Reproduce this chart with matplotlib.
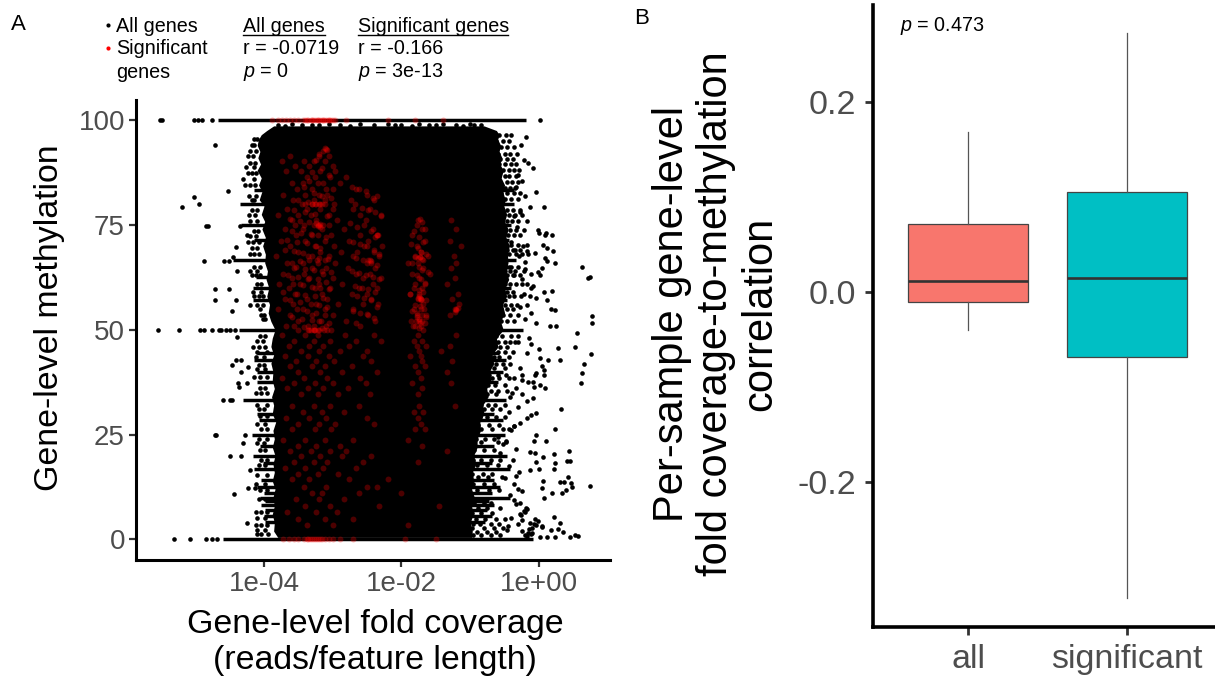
import matplotlib
matplotlib.use("Agg")
import matplotlib.pyplot as plt
from matplotlib.lines import Line2D

plt.rcParams['font.family'] = ['Liberation Sans', 'DejaVu Sans']
plt.rcParams['mathtext.fontset'] = 'custom'
plt.rcParams['mathtext.it'] = 'Liberation Sans:italic'
plt.rcParams['mathtext.rm'] = 'Liberation Sans'

W, H = 1215, 682

# panel A, x values are log10 of the fold coverage
# solid body of the cloud: methylation, left edge, right edge
body_m = [98.6, 97.5, 96.5, 95.4, 94, 92.5, 91, 89.5, 88, 86.2, 84.5, 83, 81, 79.5, 77.5, 75.8, 74, 72, 70, 68, 66,
          64, 62, 60, 58, 56, 54, 52, 50, 48, 46, 44, 42, 40, 38, 36, 34, 32, 30, 28, 26, 24, 22, 20, 18, 16, 14, 12,
          10, 8, 6, 4, 2, 0.5]
body_l = [-3.86, -3.96, -4.04, -4.08, -4.1, -4.06, -4.09, -4.05, -4.1, -4.04, -4.08, -4.03, -4.07, -4.0, -4.04, -3.99,
          -4.03, -3.98, -4.02, -3.98, -3.99, -3.95, -3.97, -3.93, -3.96, -3.92, -3.94, -3.9, -3.84, -3.88, -3.9, -3.86,
          -3.9, -3.87, -3.88, -3.85, -3.89, -3.86, -3.88, -3.83, -3.87, -3.85, -3.88, -3.84, -3.87, -3.85, -3.88,
          -3.84, -3.87, -3.85, -3.88, -3.85, -3.86, -3.8]
body_r = [-0.8, -0.62, -0.58, -0.6, -0.56, -0.58, -0.54, -0.57, -0.52, -0.55, -0.5, -0.53, -0.49, -0.51, -0.47, -0.5,
          -0.45, -0.48, -0.43, -0.46, -0.45, -0.48, -0.44, -0.5, -0.47, -0.53, -0.5, -0.56, -0.52, -0.62, -0.6, -0.68,
          -0.66, -0.72, -0.7, -0.76, -0.74, -0.82, -0.8, -0.86, -0.85, -0.9, -0.9, -0.95, -0.92, -0.97, -0.95, -0.98,
          -0.94, -0.98, -0.96, -1.0, -0.97, -0.98]

# rows of genes with the same methylation: value, start, end
row_m = [100, 83.3, 80, 75, 71.4, 66.7, 62.5, 60, 57.1, 50, 44.4, 42.9, 40, 37.5, 33.3, 30, 28.6, 25, 22.2, 20, 18.2,
         16.7, 14.3, 12.5, 11.1, 10, 9.1, 8.3, 7.1, 5.6, 4.2, 0]
row_l = [-4.67, -4.14, -4.35, -4.33, -4.14, -4.45, -4.12, -4.16, -4.16, -4.37, -4.1, -4.14, -4.1, -4.1, -4.3, -4.1,
         -4.08, -4.18, -4.06, -4.16, -4.02, -4.14, -4.04, -4.1, -4.0, -4.06, -3.98, -4.04, -3.98, -4.0, -3.98, -4.59]
row_r = [-0.19, -0.36, -0.36, -0.4, -0.44, -0.34, -0.46, -0.4, -0.46, -0.23, -0.58, -0.48, -0.52, -0.6, -0.48, -0.66,
         -0.52, -0.5, -0.66, -0.46, -0.68, -0.42, -0.66, -0.56, -0.68, -0.42, -0.72, -0.66, -0.76, -0.68, -0.78, -0.08]

# dots next to the solid body, one inner list for each methylation value
fringe_r_m = [96.5, 95, 93.6, 92, 90.8, 89.4, 88, 86.6, 85.2, 83.9, 82.6, 81.2, 78.6, 77.3, 76, 73.7, 72.5, 70.2, 69,
              68, 65, 64, 63, 61, 59, 58, 56, 55, 53.5, 52, 48.5, 47, 45.8, 44.8, 43.4, 41.8, 40.8, 39.2, 38.4, 36.8,
              35.5, 34.6, 32, 31.2, 29.2, 27.4, 26.4, 24, 23.2, 21.4, 19, 17.8, 15.6, 15, 13.2, 11.8, 8.8, 7.6, 6.4,
              5, 3.8, 2.8, 1.8, 1]
fringe_r_x = [[-0.66, -0.58, -0.48, -0.4], [-0.62, -0.52, -0.44], [-0.63, -0.55, -0.46, -0.36], [-0.6, -0.5, -0.42, -0.32],
              [-0.62, -0.56, -0.47, -0.38], [-0.58, -0.49, -0.41, -0.34], [-0.6, -0.53, -0.44, -0.36, -0.29],
              [-0.58, -0.5, -0.43, -0.33], [-0.56, -0.47, -0.39, -0.3], [-0.58, -0.5, -0.42, -0.35],
              [-0.55, -0.46, -0.37, -0.28], [-0.56, -0.49, -0.41, -0.31], [-0.54, -0.46, -0.38, -0.27],
              [-0.52, -0.44, -0.35, -0.24], [-0.54, -0.47, -0.39, -0.3], [-0.5, -0.42, -0.33, -0.22],
              [-0.52, -0.45, -0.36], [-0.5, -0.41, -0.3, -0.18], [-0.47, -0.38, -0.28], [-0.5, -0.43, -0.34, -0.24],
              [-0.48, -0.4, -0.3], [-0.5, -0.42, -0.35, -0.22], [-0.47, -0.37, -0.28], [-0.5, -0.42, -0.33, -0.24],
              [-0.46, -0.38], [-0.52, -0.44, -0.36, -0.26], [-0.5, -0.4, -0.32], [-0.55, -0.46, -0.38],
              [-0.52, -0.42, -0.3], [-0.55, -0.46, -0.36], [-0.62, -0.54, -0.4], [-0.6, -0.5, -0.42, -0.3],
              [-0.64, -0.56, -0.46], [-0.68, -0.6, -0.5, -0.38], [-0.66, -0.58, -0.44], [-0.7, -0.62, -0.52, -0.42],
              [-0.74, -0.66, -0.5], [-0.72, -0.6, -0.48], [-0.78, -0.68, -0.58, -0.44], [-0.74, -0.64, -0.5],
              [-0.8, -0.7, -0.6, -0.46], [-0.76, -0.62], [-0.84, -0.74, -0.64, -0.5], [-0.8, -0.68, -0.56],
              [-0.86, -0.76, -0.62, -0.5], [-0.88, -0.72, -0.58], [-0.84, -0.68, -0.52, -0.44], [-0.92, -0.78, -0.66],
              [-0.84, -0.6, -0.48], [-0.94, -0.8, -0.66], [-0.96, -0.84, -0.7, -0.56], [-0.9, -0.76, -0.6],
              [-0.98, -0.82, -0.68], [-0.88, -0.74, -0.54], [-0.96, -0.8, -0.66], [-0.9, -0.72, -0.58],
              [-0.94, -0.8, -0.7], [-0.88, -0.76, -0.56], [-0.98, -0.84, -0.68], [-0.92, -0.78, -0.62, -0.5],
              [-0.96, -0.86, -0.7, -0.58], [-0.98, -0.8, -0.66, -0.52], [-0.9, -0.76, -0.62], [-0.96, -0.84, -0.7, -0.56]]
fringe_l_m = [95.5, 94, 92.5, 91.5, 89.8, 88.8, 87.4, 86, 84.6, 82, 81, 78.5, 77.3, 76, 73.6, 72.4, 70.8, 69.4, 68, 65,
              64, 63, 61, 59, 58, 56, 55, 53.5, 52.5, 48.6, 47.2, 46, 44.6, 43.6, 41.6, 40.6, 38.8, 36, 35, 32, 31,
              29.4, 27.6, 26.4, 24, 23, 21.4, 19, 17.8, 15.4, 13.2, 11.8, 9.6, 6.6, 5.2, 3.4, 2.2, 1.2]
fringe_l_x = [[-4.1, -4.14], [-4.14, -4.18], [-4.12, -4.2], [-4.16, -4.24], [-4.13, -4.2], [-4.14, -4.26],
              [-4.12, -4.18, -4.24], [-4.15, -4.3], [-4.13, -4.2, -4.27], [-4.12, -4.22], [-4.14, -4.18], [-4.1, -4.17],
              [-4.13, -4.22], [-4.1, -4.2], [-4.09, -4.15], [-4.12, -4.2], [-4.08, -4.16, -4.24], [-4.1, -4.18],
              [-4.08, -4.14, -4.2], [-4.06, -4.14], [-4.1, -4.2], [-4.06, -4.12, -4.18], [-4.04, -4.1], [-4.05, -4.16],
              [-4.02, -4.08, -4.14], [-4.02, -4.1, -4.2], [-4.06], [-4.0, -4.05], [-3.98, -4.02], [-3.98, -4.06],
              [-4.02, -4.1], [-3.98, -4.08, -4.16], [-3.96, -4.1], [-4.0, -4.12], [-4.0, -4.08], [-3.98, -4.1],
              [-3.96, -4.06, -4.14], [-3.98, -4.06], [-3.95, -4.04, -4.12], [-3.96, -4.1], [-4.0, -4.08], [-3.95, -4.06],
              [-3.98, -4.1], [-3.95, -4.04], [-3.96, -4.08], [-4.0, -4.1], [-3.98, -4.06], [-3.95, -4.05], [-3.98, -4.08],
              [-3.96, -4.1], [-3.98, -4.12], [-3.96, -4.06], [-3.98, -4.08], [-3.96, -4.05, -4.12], [-3.98, -4.1],
              [-3.96, -4.04, -4.12], [-3.98, -4.1], [-3.94, -4.04, -4.1]]

# single genes further out
far_left_x = [-5.51, -5.49, -5.02, -4.96, -4.9, -4.76, -4.71, -4.52, -5.02, -4.95, -5.2, -4.84, -4.82, -4.35, -4.25,
              -4.41, -4.87, -4.58, -4.51, -4.45, -4.39, -4.72, -4.51, -4.71, -4.41, -4.47, -5.54, -5.23, -4.93, -4.87,
              -4.75, -4.66, -4.62, -4.55, -4.5, -4.42, -4.39, -4.47, -4.41, -4.33, -4.23, -4.34, -4.38, -4.37, -4.25,
              -4.59, -4.5, -4.46, -4.72, -4.7, -4.28, -4.3, -4.49, -4.33, -4.2, -4.23, -4.13, -4.44, -4.25, -5.31,
              -5.07, -4.84, -4.76, -4.69]
far_left_m = [100, 100, 100, 100, 100, 100, 94, 83, 81.7, 80, 79.2, 74.8, 74.8, 74.8, 72.6, 69.8, 66.5, 66.5, 66.5,
              67.3, 64.1, 59.8, 59.8, 57, 57, 54.4, 50, 50, 50, 50, 50, 50, 50, 50, 50, 50, 48.3, 41.5, 42.7, 42.7,
              41.1, 39.9, 37.4, 36.3, 37.4, 33.3, 33.3, 33.3, 24.9, 24.9, 24.9, 22.9, 19.9, 19.9, 16.6, 12.3, 12.3,
              10.9, 4, 0, 0, 0, 0, 0]
upper_right_x = [0.01, -0.19, -0.16, -0.09, -0.04, 0.07, -0.01, 0.1, 0.19, -0.13, -0.26, -0.22, -0.3, -0.24, -0.34,
                 -0.2, -0.28, -0.37, -0.18, -0.32, -0.27, -0.41, -0.23, -0.35, -0.16, -0.29, -0.44, -0.2, -0.38, -0.25,
                 -0.12]
upper_right_m = [100, 96, 89.7, 88.5, 82.9, 79.3, 73.8, 73, 72.6, 79.3, 94, 90.5, 87, 85.5, 84, 82, 78, 77, 76, 74.5,
                 72.5, 71, 70, 69, 68, 67.5, 65, 64.5, 63, 62, 60]
mid_right_x = [0.63, 0.72, 0.74, 0.77, 0.77, 0.56, 0.53, 0.28, 0.75, 0.3, 0.66, 0.63, 0.61, 0.17, 0.24, 0.08, 0.19,
               0.11, 0.16, 0.25, -0.04, 0.02, 0.13, 0.04, 0.07, 0.07, -0.06, -0.05, -0.24, -0.16, -0.08, 0.02, 0.09,
               -0.07, -0.25, -0.18, -0.08, 0.09, 0.0, 0.06, 0.11, 0.21, 0.09, 0.11, 0.24, -0.06, -0.18, 0.04, -0.01,
               0.02, -0.11, -0.2, -0.18, -0.09, -0.22, -0.13, -0.04, -0.17, -0.27, -0.12, -0.2, -0.3, -0.15, -0.35,
               -0.11, 0.0, -0.18, -0.28, -0.37, -0.25, -0.33, -0.39, -0.42, -0.3, -0.44]
mid_right_m = [65, 62.4, 62.6, 53.2, 51.7, 49.3, 45.8, 45.6, 44.2, 42.7, 41.8, 39.6, 37.3, 55, 54.7, 59.1, 59.2, 57.1,
               50.9, 50.9, 51.5, 43.3, 42.8, 41.4, 40.4, 39.1, 39.3, 39.8, 39.1, 37.5, 37.5, 36.8, 36.2, 36.4, 34.8,
               32.9, 33.7, 72.6, 73, 70.2, 69.4, 68.7, 67, 66.4, 65.8, 68.2, 68.8, 64.8, 63.8, 63, 63.2, 66.2, 61, 60.5,
               58.5, 58, 57.5, 56, 55.5, 54, 52.5, 48.5, 48, 47, 46.5, 45.5, 44.5, 41, 38.5, 38, 36, 35, 34, 31.5, 30.5]
low_right_x = [0.32, 0.24, -0.04, -0.11, -0.18, -0.28, -0.37, 0.1, -0.04, -0.07, 0.43, 0.22, -0.06, -0.13, 0.06, 0.41,
               0.45, 0.23, 0.22, -0.04, 0.0, -0.13, 0.74, 0.42, 0.3, 0.36, 0.46, 0.48, 0.06, 0.04, 0.19, 0.33, 0.4,
               0.07, 0.22, 0.3, 0.04, 0.17, 0.28, 0.35, 0.57, 0.52, 0.45, 0.24, 0.12, 0.02, -0.04, -0.1, -0.16, -0.2,
               -0.13, -0.07, -0.24, -0.18, -0.1, -0.02, 0.05, -0.21, -0.14, -0.27, -0.06, -0.19, -0.3, -0.24, -0.33,
               -0.17, -0.12, -0.26, -0.37, -0.22, -0.31, -0.42, -0.28, -0.36, -0.25, -0.47, -0.34, -0.4, -0.29, -0.5,
               -0.38, -0.44, -0.33, -0.56, -0.48, -0.4, -0.6, -0.52, -0.45, -0.36]
low_right_m = [31.1, 26.3, 30.1, 29.7, 28.9, 27.7, 27.1, 23.5, 24.9, 23.5, 21.1, 20.3, 20.5, 20.8, 19.7, 18.8, 18.8,
               18.2, 16.8, 18.5, 16.8, 16.6, 12.7, 15, 13.8, 13.8, 13.4, 12.4, 14, 12.2, 11.2, 11.1, 11.8, 10, 5.4, 4,
               3.1, 2.3, 2.5, 1.7, 0.9, 1.1, 0.5, 0.7, 0.6, 0.5, 3.5, 2.8, 1.5, 1, 4, 3.6, 2.1, 0.8, 1.6, 4.3, 3, 6.5,
               2.5, 6, 5, 7.5, 3.8, 4.6, 8.5, 7.2, 1.2, 5.8, 9.4, 6.8, 12, 10.6, 8.8, 13.2, 11.6, 2.2, 15.2, 5.2, 16,
               14.6, 19, 17.4, 21.5, 20.6, 23.5, 26, 24.4, 22.8, 3.2, 27]
top_edge_x = [-3.8, -3.6, -3.45, -3.2, -3.05, -2.9, -2.6, -2.4, -2.2, -2.0, -1.75, -1.6, -1.4, -1.2, -1.0, -0.85, -3.7,
              -3.3, -2.75, -2.1, -1.85, -1.5, -1.1, -0.95]
top_edge_m = [98.9, 99, 98.8, 98.9, 99.1, 98.9, 99, 98.8, 99.1, 98.9, 99, 98.8, 99, 98.9, 99.1, 98.7, 98.6, 98.7, 98.5,
              98.7, 98.6, 98.7, 98.5, 98.7]

# significant genes, drawn on top of the black cloud, one inner list for each methylation value
sig_m = [93, 91.5, 90.2, 89, 87.8, 86.4, 85, 83.6, 82.2, 81, 78.8, 77.4, 76.2, 74, 72.6, 71.2, 70, 68.6, 67.6, 66,
         64.8, 63.4, 62.4, 61, 60, 58.6, 57.4, 56.2, 55, 53.6, 52.2, 51, 48.8, 47.4, 46.2, 45, 43.8, 42.6, 41.4, 40,
         38.6, 37.4, 36, 34.8, 31.8, 30.4, 29, 27.6, 26.4, 23.6, 22.4, 21, 19.8, 18.4, 17, 15.6, 14.4, 12.6, 11, 9.6,
         8, 6.6, 5, 3.4]
sig_x = [[-3.1], [-3.62, -3.2, -3.05], [-3.74, -3.42, -3.27, -3.12], [-3.55, -3.34, -3.0],
         [-3.68, -3.46, -3.18, -2.96], [-3.38, -3.26, -3.04, -2.8], [-3.6, -3.44, -3.14, -2.9],
         [-3.52, -3.3, -3.0, -2.66], [-3.72, -3.4, -3.2, -3.08, -2.5], [-3.58, -3.28, -3.12, -2.74, -2.4],
         [-3.66, -3.38, -3.18, -3.0, -2.7, -2.46], [-3.8, -3.5, -3.32, -3.06, -2.6, -2.3],
         [-3.6, -3.24, -2.94, -2.52, -1.76, -1.28], [-3.7, -3.44, -3.16, -2.84, -2.42, -1.7, -1.2],
         [-3.54, -3.3, -3.02, -2.6, -2.36, -1.84], [-3.76, -3.4, -3.12, -2.76, -2.48, -1.66, -1.3],
         [-3.62, -3.26, -2.98, -2.54, -2.28, -1.78, -1.14], [-3.5, -3.18, -2.88, -2.64, -2.4, -1.72],
         [-3.82, -3.36, -3.06, -2.7, -2.32, -1.8, -1.62, -1.24], [-3.66, -3.44, -3.22, -2.96, -2.5, -2.44, -1.9, -1.76, -1.2],
         [-3.56, -3.3, -3.1, -2.78, -2.38, -1.68, -1.28], [-3.72, -3.42, -3.14, -2.66, -2.46, -1.84, -1.58],
         [-3.6, -3.34, -3.0, -2.56, -2.3, -1.74, -1.22], [-3.78, -3.48, -3.2, -2.86, -2.42, -1.8, -1.66, -1.34],
         [-3.64, -3.26, -3.04, -2.62, -2.36, -1.7], [-3.52, -3.16, -2.72, -2.5, -1.88, -1.74, -1.18],
         [-3.7, -3.38, -3.08, -2.44, -1.76, -1.72, -1.26], [-3.58, -3.24, -2.92, -2.56, -2.34, -1.68, -1.16],
         [-3.8, -3.44, -3.12, -2.7, -1.82, -1.72, -1.2, -1.22], [-3.62, -3.3, -3.0, -2.48, -1.78, -1.64, -1.3],
         [-3.5, -3.2, -2.8, -2.38, -1.86, -1.74, -1.7], [-3.68, -3.36, -3.1, -2.6, -1.8, -1.72],
         [-3.74, -3.4, -3.22, -2.82, -2.4, -1.76, -1.2], [-3.56, -3.28, -3.04, -2.66, -2.3, -1.82, -1.7],
         [-3.64, -3.34, -3.14, -2.76, -1.78, -1.64, -1.3], [-3.46, -3.2, -2.9, -2.5, -1.74, -1.42],
         [-3.7, -3.36, -3.06, -2.56, -1.88, -1.72], [-3.54, -3.24, -2.98, -2.44, -1.7, -1.26],
         [-3.62, -3.3, -3.12, -2.72, -1.8, -1.66], [-3.5, -3.18, -2.86, -2.36, -1.76, -1.34],
         [-3.74, -3.42, -3.08, -2.6, -1.72], [-3.56, -3.26, -3.0, -2.52, -1.84, -1.28],
         [-3.66, -3.36, -3.14, -2.78, -1.7], [-3.46, -3.22, -2.92, -2.46, -1.76],
         [-3.6, -3.28, -3.04, -2.62, -1.74, -1.22], [-3.44, -3.16, -2.84, -1.82, -1.68],
         [-3.68, -3.34, -3.1, -2.5, -1.76], [-3.5, -3.2, -2.96, -2.4, -1.72], [-3.6, -3.26, -3.02, -1.8, -1.66],
         [-3.72, -3.4, -3.12, -2.7, -1.9], [-3.5, -3.24, -2.9, -1.7], [-3.62, -3.32, -3.04, -2.8, -1.34],
         [-3.46, -3.18, -2.86, -2.44], [-3.56, -3.28, -3.08, -2.56, -1.76], [-3.7, -3.4, -3.14, -2.66],
         [-3.5, -3.22, -2.92], [-3.6, -3.34, -2.76, -2.2], [-3.42, -3.1, -2.5, -2.36], [-3.3, -3.16, -2.62, -2.0],
         [-3.54, -3.2, -2.84], [-3.4, -3.04, -2.32, -1.46], [-3.66, -3.24, -2.94], [-3.5, -3.12, -2.7],
         [-3.38, -3.0, -1.9]]
# the main left column of red points, upper half
col_a_x = [-3.2, -3.25, -3.15, -3.3, -3.06, -3.35, -3.22, -3.1, -3.42, -3.28, -3.16, -3.02, -3.5, -3.36, -3.24, -3.12,
           -2.98, -3.45, -3.3, -3.18, -3.56, -3.4, -3.26, -3.08, -3.62, -3.48, -3.34, -3.2, -3.05, -3.55, -3.42, -3.28,
           -3.14, -3.6, -3.46, -3.32, -3.21, -3.1, -3.66, -3.52, -3.38, -3.24, -3.18, -3.7, -3.56, -3.43, -3.3, -3.2,
           -3.07, -3.6, -3.47, -3.34, -3.23, -3.12, -3.54, -3.4, -3.27, -3.16, -3.02, -3.65, -3.5, -3.36, -3.22, -3.1,
           -3.58, -3.44, -3.3, -3.18, -3.06, -3.72, -3.55, -3.4, -3.26, -3.14, -3.62, -3.48, -3.32, -3.2, -3.08, -3.52,
           -3.38, -3.25, -3.12, -3.6, -3.45, -3.3, -3.17, -3.05, -3.56, -3.42, -3.28, -3.15]
col_a_m = [92, 90.5, 88.5, 87.5, 87, 85.5, 85, 83.5, 84, 82.5, 82, 81.5, 81, 80.5, 79.9, 79.9, 79.9, 79.9, 79.9, 79.9,
           78.5, 78, 77.5, 77, 76.5, 76, 75.6, 75, 75, 75, 75, 75, 75, 73.5, 73, 72.8, 72.5, 72, 71.5, 71, 70.6, 70,
           69.6, 69, 68.8, 68.2, 67.6, 67, 66.8, 66, 66.5, 66.6, 66.7, 66.7, 65, 64.6, 64.2, 64, 63.8, 63, 62.6, 62.2,
           62, 61.5, 61, 60.6, 60.2, 60, 59.6, 59, 58.5, 58.2, 58, 57.6, 57, 56.5, 56.2, 56, 55.5, 55, 54.5, 54, 53.6,
           53, 52.6, 52.4, 52, 51.6, 51, 50.6, 50.8, 50.4]
col_b_x = [-2.72, -2.62, -2.52, -2.42, -2.36, -2.68, -2.58, -2.48, -2.38, -2.3, -2.75, -2.64, -2.54, -2.44, -2.34, -2.7,
           -2.6, -2.5, -2.4, -2.32, -2.66, -2.56, -2.46, -2.36, -2.72, -2.62, -2.52, -2.42, -2.33, -2.68, -2.58, -2.48,
           -2.38, -2.64, -2.54, -2.44, -2.35, -2.7, -2.6, -2.5, -2.4, -2.66]
col_b_m = [84, 83.5, 83, 81.5, 82, 80, 79, 78.5, 78, 77, 75.5, 74.5, 75, 73.5, 72.6, 71, 70.5, 70, 69, 68, 67, 66.6,
           66.6, 65.5, 64, 63.5, 63, 62.6, 62, 60.5, 60, 59.6, 59, 58, 57.5, 57, 55.5, 54.5, 54, 53.8, 52.8, 51.5]
col_c_x = [-1.73, -1.7, -1.78, -1.66, -1.82, -1.74, -1.69, -1.86, -1.76, -1.72, -1.64, -1.8, -1.73, -1.68, -1.84, -1.75,
           -1.7, -1.62, -1.78, -1.72, -1.66, -1.82, -1.74, -1.68, -1.88, -1.76, -1.71, -1.65, -1.8, -1.73, -1.67, -1.85,
           -1.77, -1.7, -1.64, -1.79, -1.73, -1.66, -1.83, -1.75, -1.69]
col_c_m = [76.5, 75.8, 75, 74, 73.5, 72, 71, 70.5, 69.5, 68.5, 68, 67.4, 67.4, 66.6, 66, 65, 64.2, 63.8, 63, 62, 61.2,
           60, 59.5, 59, 58.5, 57.5, 57.4, 57, 56, 55.6, 55, 54.5, 54, 53.5, 53, 52.2, 51.5, 51.5, 51, 50.5, 50]
# points that pile up in the brighter patches
hot_x = [-3.11, -3.14, -3.08, -3.21, -3.24, -3.18, -3.22, -3.19, -1.73, -1.7, -1.76, -1.73, -1.71, -1.75, -1.78, -1.74,
         -1.2, -1.22, -1.18, -2.48, -2.45, -2.36, -2.38, -3.4, -3.3, -3.26, -3.2, -3.16, -3.5, -3.36, -3.28, -3.22,
         -3.34, -3.31, -3.26, -3.2, -3.13, -3.08, -3.02, -3.28]
hot_m = [93.3, 92.6, 92.8, 75, 75.4, 74.6, 74.8, 75.2, 67.4, 66.8, 67, 57.5, 57, 58, 53, 52.6, 54.7, 54.2, 55.2, 66.6,
         66.4, 72.6, 72.2, 79.9, 79.9, 79.9, 79.9, 79.9, 50, 50, 50, 50, 50, 50, 50, 50, 50, 50, 50, 50]
sig_100_x = [-3.88, -3.8, -3.74, -3.68, -3.62, -3.56, -3.5, -3.44, -3.4, -3.36, -3.32, -3.29, -3.26, -3.23, -3.2, -3.17,
             -3.14, -3.11, -3.08, -3.05, -3.02, -2.99, -2.96, -3.38, -3.3, -3.22, -3.14, -3.06, -2.8, -2.2, -1.8, -1.4]
sig_0_x = [-3.72, -3.64, -3.56, -3.5, -3.42, -3.38, -3.36, -3.33, -3.3, -3.27, -3.24, -3.21, -3.18, -3.15, -3.12, -3.06,
           -3.0, -2.9, -2.7, -1.95, -1.5]

tick_x = [-4, -2, 0]
tick_x_labels = ['1e-04', '1e-02', '1e+00']
tick_y = [0, 25, 50, 75, 100]

# panel B
groups = ['all', 'significant']
box_q1 = [-0.0105, -0.0684]
box_med = [0.0116, 0.0147]
box_q3 = [0.0716, 0.105]
whisk_lo = [-0.04, -0.322]
whisk_hi = [0.168, 0.2726]
box_colors = ['#F8766D', '#00BFC4']
tick_b = [-0.2, 0.0, 0.2]
tick_b_labels = ['-0.2', '0.0', '0.2']


def axes_px(fig, left, top, right, bottom):
    return fig.add_axes([left / W, 1 - bottom / H, (right - left) / W, (bottom - top) / H])


def put(fig, x, y, s, **kw):
    return fig.text(x / W, 1 - y / H, s, **kw)


def flat(row_values, row_lists):
    x, m = [], []
    for v, r in zip(row_values, row_lists):
        x += r
        m += [v] * len(r)
    return x, m


fig = plt.figure(figsize=(W / 100, H / 100), dpi=100)

# A
ax = axes_px(fig, 136, 100, 610, 560)
ax.fill_betweenx(body_m, body_l, body_r, color='black', linewidth=0, zorder=1)
ax.hlines(row_m, row_l, row_r, color='black', linewidth=2.5, zorder=1)
black = [flat(fringe_r_m, fringe_r_x), flat(fringe_l_m, fringe_l_x), (far_left_x, far_left_m),
         (upper_right_x, upper_right_m), (mid_right_x, mid_right_m), (low_right_x, low_right_m),
         (top_edge_x, top_edge_m)]
for x, m in black:
    n = min(len(x), len(m))
    ax.scatter(x[:n], m[:n], s=11, c='black', linewidths=0, zorder=2)
red = [flat(sig_m, sig_x), (col_a_x, col_a_m), (col_b_x, col_b_m), (col_c_x, col_c_m), (hot_x, hot_m),
       (sig_100_x, [100] * len(sig_100_x)), (sig_0_x, [0] * len(sig_0_x))]
for x, m in red:
    n = min(len(x), len(m))
    ax.scatter(x[:n], m[:n], s=18, c='#ff0000', alpha=0.3, linewidths=0, zorder=3)
ax.set_xlim(-5.862, 1.033)
ax.set_ylim(-4.89, 104.77)
ax.set_xticks(tick_x)
ax.set_xticklabels(tick_x_labels)
ax.set_yticks(tick_y)
ax.tick_params(length=5, width=1.6, color='#333333', labelcolor='#4D4D4D', labelsize=20, pad=3)
for s in ['top', 'right']:
    ax.spines[s].set_visible(False)
for s in ['left', 'bottom']:
    ax.spines[s].set_linewidth(2.2)

# B
ax2 = axes_px(fig, 873, 5, 1215, 627)
stats = []
for i in range(2):
    stats.append({'label': groups[i], 'med': box_med[i], 'q1': box_q1[i], 'q3': box_q3[i],
                  'whislo': whisk_lo[i], 'whishi': whisk_hi[i], 'fliers': []})
bp = ax2.bxp(stats, positions=[1, 2], widths=0.755, patch_artist=True, showcaps=False, showfliers=False,
             medianprops=dict(color='#333333', linewidth=1.9, solid_capstyle='butt'),
             whiskerprops=dict(color='#555555', linewidth=0.9),
             boxprops=dict(edgecolor='#444444', linewidth=0.9))
for b, c in zip(bp['boxes'], box_colors):
    b.set_facecolor(c)
ax2.set_xlim(0.4025, 2.553)
ax2.set_ylim(-0.3526, 0.302)
ax2.set_yticks(tick_b)
ax2.set_yticklabels(tick_b_labels)
ax2.tick_params(length=6, width=2, color='#333333', labelcolor='#4D4D4D', labelsize=24.5, pad=6)
for s in ['top', 'right']:
    ax2.spines[s].set_visible(False)
for s in ['left', 'bottom']:
    ax2.spines[s].set_linewidth(2.6)

# titles and notes
put(fig, 375, 625, 'Gene-level fold coverage', fontsize=24.4, ha='center', va='center')
put(fig, 375, 661, '(reads/feature length)', fontsize=24.4, ha='center', va='center')
put(fig, 50, 318, 'Gene-level methylation', fontsize=24.4, rotation=90, ha='center', va='center')
put(fig, 716, 314, 'Per-sample gene-level\nfold coverage-to-methylation\ncorrelation', fontsize=30, rotation=90,
    ha='center', va='center', multialignment='center', linespacing=1.14)

put(fig, 11, 24, 'A', fontsize=16, va='center')
put(fig, 634, 19, 'B', fontsize=16, va='center')
put(fig, 900, 26, r'$\mathit{p}$ = 0.473', fontsize=14.2, va='center')

fig.add_artist(Line2D([108 / W], [1 - 25 / H], marker='o', ms=3, color='black', mew=0))
fig.add_artist(Line2D([108 / W], [1 - 48 / H], marker='o', ms=3, color='red', mew=0))
put(fig, 116, 26, 'All genes', fontsize=14.2, va='center')
put(fig, 116, 48, 'Significant', fontsize=14.2, va='center')
put(fig, 116, 72, 'genes', fontsize=14.2, va='center')
put(fig, 243, 26, 'All genes', fontsize=14.2, va='center')
put(fig, 243, 48, 'r = -0.0719', fontsize=14.2, va='center')
put(fig, 243, 72, r'$\mathit{p}$ = 0', fontsize=14.2, va='center')
put(fig, 358, 26, 'Significant genes', fontsize=14.2, va='center')
put(fig, 358, 48, 'r = -0.166', fontsize=14.2, va='center')
put(fig, 358, 72, r'$\mathit{p}$ = 3e-13', fontsize=14.2, va='center')
fig.add_artist(Line2D([243 / W, 325 / W], [1 - 35 / H, 1 - 35 / H], color='black', lw=1))
fig.add_artist(Line2D([358 / W, 508 / W], [1 - 35 / H, 1 - 35 / H], color='black', lw=1))

fig.savefig('out.png', dpi=100)
